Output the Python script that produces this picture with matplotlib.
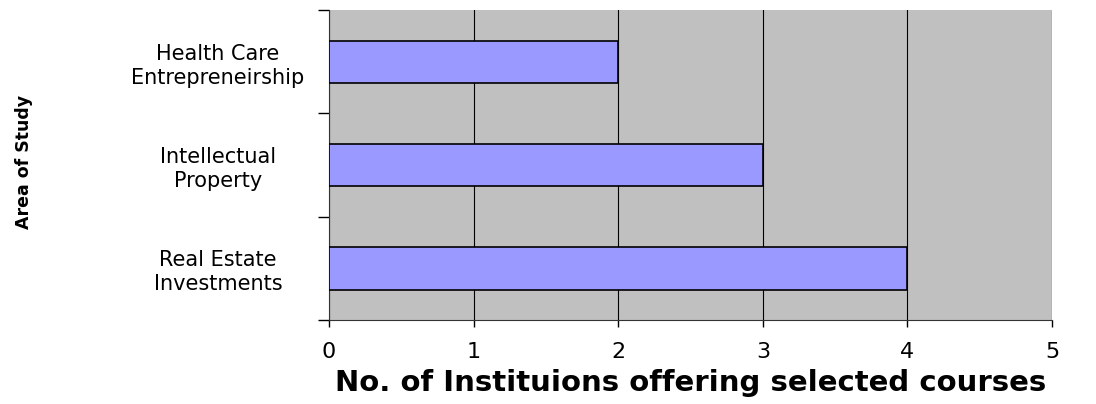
import matplotlib
matplotlib.use("Agg")
import matplotlib.pyplot as plt

# data
categories = ["Real Estate\nInvestments", "Intellectual\nProperty", "Health Care\nEntrepreneirship"]
counts = [4, 3, 2]
x_ticks = [0, 1, 2, 3, 4, 5]

plt.rcParams['font.family'] = ['DejaVu Sans']

fig = plt.figure(figsize=(10.96, 4.04), dpi=100)
ax = fig.add_axes([0.3002, 0.2079, 0.6597, 0.7673])
ax.set_facecolor('#C0C0C0')

ypos = list(range(len(categories)))
ax.barh(ypos, counts, height=0.41, color='#9999FF', edgecolor='black', linewidth=1.2, zorder=3)

ax.set_xlim(0, 5)
ax.set_ylim(-0.5, len(categories) - 0.5)
ax.set_xticks(x_ticks)
ax.set_yticks([y - 0.5 for y in ypos] + [len(categories) - 0.5])
ax.set_yticklabels([])
ax.set_yticks(ypos, minor=True)
ax.set_yticklabels(categories, minor=True, fontsize=15, ha='center', linespacing=1.25)
ax.tick_params(axis='y', which='minor', length=0, pad=80)
ax.tick_params(axis='y', which='major', length=8, width=1, direction='out')
ax.tick_params(axis='x', length=5, width=1, direction='out', labelsize=16, pad=11)

ax.grid(axis='x', color='black', linewidth=0.8, zorder=1)
ax.set_axisbelow(True)
for s in ['top', 'right']:
    ax.spines[s].set_visible(False)
ax.spines['left'].set_color('#333333')
ax.spines['bottom'].set_color('#333333')

ax.set_xlabel("No. of Instituions offering selected courses", fontsize=21, fontweight='bold', labelpad=5)
fig.text(0.022, 0.60, "Area of Study", rotation=90, fontsize=12.5, fontweight='bold',
         ha='center', va='center')

fig.savefig("out.png", dpi=100)
